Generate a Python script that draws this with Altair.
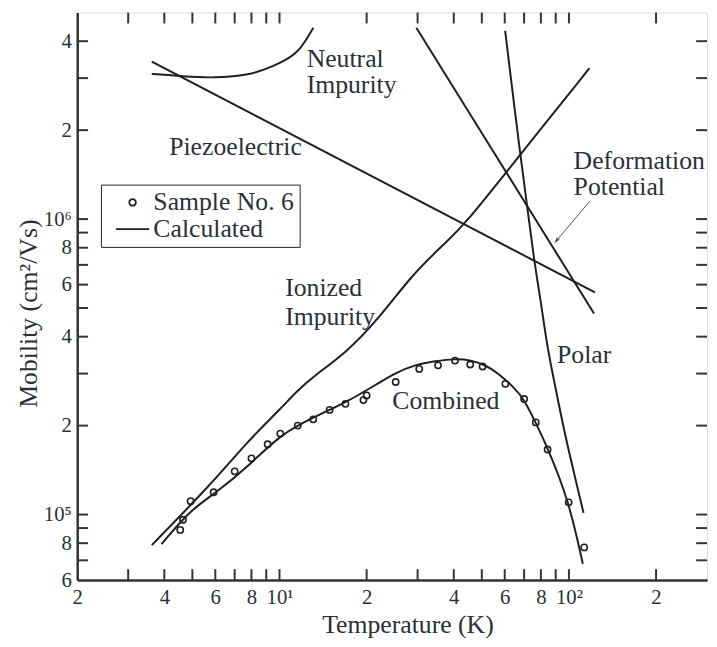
import altair as alt
import pandas as pd

# ---------------- data ----------------
neutral_T = [3.62, 4.64, 5.96, 7.74, 8.83, 10.06, 11.47, 12.24, 13.08]
neutral_mu = [3.10e6, 3.04e6, 3.00e6, 3.07e6, 3.20e6, 3.37e6, 3.64e6, 3.98e6, 4.44e6]

piezo_T = [3.62, 123.0]
piezo_mu = [3.41e6, 5.65e5]

ionized_T = [3.62, 5.92, 7.74, 10.06, 11.47, 13.08, 17.0, 22.1, 28.7, 37.3, 43.7, 68.2, 117.7]
ionized_mu = [7.88e4, 1.293e5, 1.765e5, 2.275e5, 2.612e5, 2.933e5, 3.528e5, 4.62e5,
              6.48e5, 8.29e5, 9.58e5, 1.662e6, 3.24e6]

deform_T = [29.7, 122.1]
deform_mu = [4.44e6, 4.79e5]

polar_T = [60.2, 67.9, 71.9, 75.8, 79.9, 84.1, 88.7, 95.9, 103.8, 112.3]
polar_mu = [4.335e6, 1.642e6, 1.088e6, 7.22e5, 5.30e5, 3.70e5, 2.865e5, 1.95e5, 1.40e5, 1.013e5]

combined_T = [3.91, 4.93, 5.92, 8.00, 10.06, 13.08, 17.0, 22.1, 25.2, 29.5, 34.5, 40.4,
              46.0, 51.1, 56.8, 64.7, 70.0, 76.8, 84.1, 99.8, 111.7]
combined_mu = [7.94e4, 1.039e5, 1.166e5, 1.489e5, 1.862e5, 2.134e5, 2.395e5, 2.794e5,
               3.017e5, 3.217e5, 3.304e5, 3.368e5, 3.33e5, 3.217e5, 3.017e5, 2.688e5,
               2.457e5, 2.042e5, 1.697e5, 1.12e5, 6.81e4]

sample_T = [4.54, 4.64, 4.93, 5.92, 7.00, 8.00, 9.1, 10.06, 11.56, 13.08, 14.9, 16.9,
            19.5, 20.0, 25.2, 30.4, 35.3, 40.4, 45.6, 50.3, 60.3, 70.0, 76.8, 84.4,
            99.8, 112.9]
sample_mu = [8.87e4, 9.6e4, 1.11e5, 1.19e5, 1.40e5, 1.55e5, 1.73e5, 1.88e5, 2.0e5,
             2.1e5, 2.26e5, 2.37e5, 2.44e5, 2.53e5, 2.81e5, 3.11e5, 3.2e5, 3.32e5,
             3.22e5, 3.17e5, 2.77e5, 2.46e5, 2.05e5, 1.66e5, 1.10e5, 7.74e4]

label_text = ["Neutral", "Impurity", "Piezoelectric", "Ionized", "Impurity",
              "Combined", "Polar", "Deformation", "Potential"]
label_T = [12.41, 12.41, 4.157, 10.46, 10.46, 24.54, 91.0, 103.8, 103.8]
label_mu = [3.284e6, 2.674e6, 1.642e6, 5.48e5, 4.377e5, 2.275e5, 3.26e5, 1.481e6, 1.207e6]

arrow_T = [118.3, 89.9]
arrow_mu = [1.152e6, 8.38e5]

x_tick_values = [3, 4, 5, 6, 7, 8, 9, 10, 20, 30, 40, 50, 60, 70, 80, 90, 100, 200]
y_tick_values = [7e4, 8e4, 9e4, 1e5, 2e5, 3e5, 4e5, 5e5, 6e5, 7e5, 8e5, 9e5,
                 1e6, 2e6, 3e6, 4e6]
x_label_values = [2, 4, 6, 8, 10, 20, 40, 60, 80, 100, 200]
x_label_text = ["2", "4", "6", "8", "10¹", "2", "4", "6", "8", "10²", "2"]
y_label_values = [6e4, 8e4, 1e5, 2e5, 4e5, 6e5, 8e5, 1e6, 2e6, 4e6]
y_label_text = ["6", "8", "10⁵", "2", "4", "6", "8", "10⁶", "2", "4"]

legend_kinds = ["Sample No. 6", "Calculated"]

# ---------------- styling ----------------
FONT = "Liberation Serif, Times New Roman, DejaVu Serif, serif"
INK = "#1f1f1f"
TXT = "#2b2f38"
W, H = 637, 574


def label_expr(values, texts):
    expr = "''"
    for v, t in reversed(list(zip(values, texts))):
        expr = f"datum.value == {v:g} ? '{t}' : ({expr})"
    return expr


xscale = alt.Scale(type="log", domain=[2, 300], nice=False)
yscale = alt.Scale(type="log", domain=[6e4, 5e6], nice=False)

xaxis = alt.Axis(values=x_label_values, labelExpr=label_expr(x_label_values, x_label_text),
                 ticks=False, tickSize=0, grid=False, domain=True, domainColor="#333",
                 domainWidth=2.5, labelFont=FONT, labelFontSize=21, labelColor=TXT,
                 labelPadding=24, labelBaseline="alphabetic", labelFlush=False,
                 labelOverlap=False, titleFont=FONT, titleFontSize=26,
                 titleFontWeight="normal", titleColor=TXT, titleX=334, titleY=53,
                 titleAlign="center", titleBaseline="alphabetic")
yaxis = alt.Axis(values=y_label_values, labelExpr=label_expr(y_label_values, y_label_text),
                 ticks=False, tickSize=0, grid=False, domain=True, domainColor="#333",
                 domainWidth=2.5, labelFont=FONT, labelFontSize=21, labelColor=TXT,
                 labelPadding=6, labelBaseline="middle", labelFlush=False,
                 labelOverlap=False, titleFont=FONT, titleFontSize=26,
                 titleFontWeight="normal", titleColor=TXT, titleX=-41, titleY=304,
                 titleAngle=270, titleAlign="center", titleBaseline="alphabetic")

X = alt.X("T:Q", scale=xscale, axis=xaxis, title="Temperature (K)")
Y = alt.Y("mu:Q", scale=yscale, axis=yaxis, title="Mobility (cm²/Vs)")

# ---------------- tables ----------------
curves = []
for name, ts, ms in [("neutral", neutral_T, neutral_mu), ("piezo", piezo_T, piezo_mu),
                     ("ionized", ionized_T, ionized_mu), ("deform", deform_T, deform_mu),
                     ("polar", polar_T, polar_mu), ("combined", combined_T, combined_mu)]:
    for i, (t, m) in enumerate(zip(ts, ms)):
        curves.append({"curve": name, "idx": i, "T": t, "mu": m})
curves_df = pd.DataFrame(curves)
sample_df = pd.DataFrame({"T": sample_T, "mu": sample_mu, "kind": legend_kinds[0]})
labels_df = pd.DataFrame({"T": label_T, "mu": label_mu, "text": label_text})
arrow_df = pd.DataFrame({"T": arrow_T, "mu": arrow_mu, "idx": [0, 1]})
xt_df = pd.DataFrame({"T": x_tick_values})
yt_df = pd.DataFrame({"mu": y_tick_values})

# ---------------- layers ----------------
lines = alt.Chart(curves_df).mark_line(color=INK, strokeWidth=2, interpolate="basis").encode(
    x=X, y=Y, detail="curve:N", order="idx:Q")

points = alt.Chart(sample_df).mark_point(filled=False, color=INK, strokeWidth=1.6, size=40,
                                         opacity=1).encode(
    x=X, y=Y,
    shape=alt.Shape("kind:N",
                    scale=alt.Scale(domain=legend_kinds, range=["circle", "M-5,0L5,0"]),
                    legend=alt.Legend(orient="none", legendX=24, legendY=174, title=None,
                                      direction="vertical", labelFont=FONT, labelFontSize=26,
                                      labelColor=TXT,
                                      labelExpr="datum.label + '\u00a0\u00a0'",
                                      symbolSize=45, symbolStrokeWidth=1.8,
                                      symbolStrokeColor=INK, symbolFillColor="white",
                                      symbolOffset=14, labelOffset=8, padding=5,
                                      rowPadding=1, strokeColor="#222", fillColor="white")))

texts = alt.Chart(labels_df).mark_text(align="left", baseline="alphabetic", font=FONT,
                                       fontSize=26, color=TXT).encode(x=X, y=Y, text="text:N")

arrow_line = alt.Chart(arrow_df).mark_line(color="#555", strokeWidth=1).encode(
    x=X, y=Y, order="idx:Q")
arrow_head = alt.Chart(arrow_df.iloc[[1]]).mark_point(
    shape="M-0.7,2.2L0,0L0.7,2.2", filled=False, color="#555", strokeWidth=1.2,
    size=16, angle=220, opacity=1).encode(x=X, y=Y)

tick_bottom = alt.Chart(xt_df).mark_rule(color="#333", strokeWidth=2).encode(
    x=X, y=alt.value(H), y2=alt.value(H - 11))
tick_top = alt.Chart(xt_df).mark_rule(color="#333", strokeWidth=2).encode(
    x=X, y=alt.value(0), y2=alt.value(11))
tick_left = alt.Chart(yt_df).mark_rule(color="#333", strokeWidth=2).encode(
    y=Y, x=alt.value(0), x2=alt.value(11))
tick_right = alt.Chart(yt_df).mark_rule(color="#333", strokeWidth=2).encode(
    y=Y, x=alt.value(W), x2=alt.value(W - 11))

chart = alt.layer(lines, points, texts, arrow_line, arrow_head,
                  tick_bottom, tick_top, tick_left, tick_right).properties(
    width=W, height=H,
    autosize=alt.AutoSizeParams(type="none"),
    padding={"left": 70, "top": 1, "right": 2, "bottom": 60},
).configure_view(stroke="#333", strokeWidth=2).configure(background="white")

chart.save("out.html", embed_options={"renderer": "svg", "actions": False})
